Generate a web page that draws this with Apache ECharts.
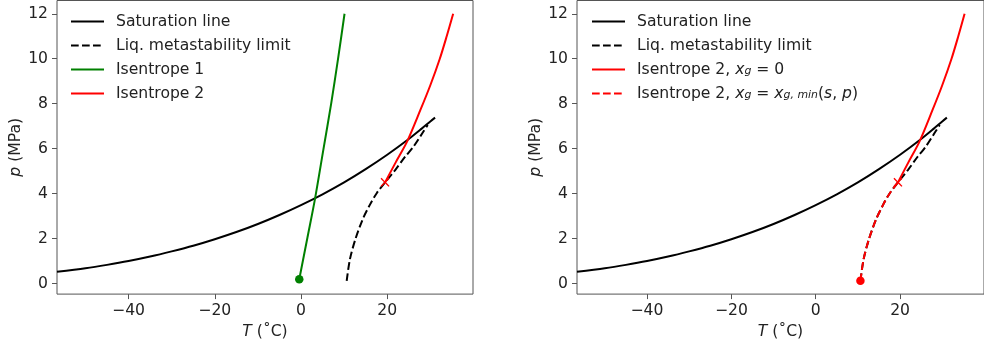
<!DOCTYPE html>
<html>
<head>
<meta charset="utf-8">
<script src="https://cdn.jsdelivr.net/npm/echarts@6/dist/echarts.min.js"></script>
<style>
  html, body { margin: 0; padding: 0; background: #fff; }
  #chart { width: 984px; height: 345px; }
</style>
</head>
<body>
<div id="chart"></div>
<script>
// CO2 saturation line (T in °C, p in MPa), triple point to critical point
const satT = [-56.6, -50, -45, -40, -35, -30, -25, -20, -15, -10, -5, 0, 5, 10, 15, 20, 25, 28, 30, 31.1];
const satP = [0.52, 0.68, 0.83, 1.00, 1.20, 1.43, 1.68, 1.97, 2.29, 2.65, 3.05, 3.49, 3.97, 4.50, 5.09, 5.73, 6.43, 6.89, 7.21, 7.38];

// liquid metastability (spinodal) limit
const spinT = [10.6, 11.35, 12.6, 14.3, 16.0, 17.6, 19.5, 21.9, 24.2, 26.1, 28.4, 29.4];
const spinP = [0.12, 1.08, 1.96, 2.85, 3.51, 4.03, 4.50, 5.06, 5.65, 6.09, 6.76, 7.05];

// isentrope 1
const isen1T = [-0.4, 1.5, 3.26, 5.2, 7.0, 8.6, 10.1];
const isen1P = [0.19, 2.05, 3.78, 5.97, 8.0, 10.0, 12.0];

// isentrope 2, x_g = 0 branch
const isen2T = [19.5, 22.0, 24.6, 27.7, 30.0, 32.2, 33.8, 35.3];
const isen2P = [4.50, 5.40, 6.31, 7.72, 8.82, 10.0, 11.0, 12.0];

// isentrope 2, x_g = x_g,min(s, p) branch
const isen2MetaT = [10.6, 11.35, 12.6, 14.3, 16.0, 17.6, 19.5];
const isen2MetaP = [0.12, 1.08, 1.96, 2.85, 3.51, 4.03, 4.50];

// special points
const isen1Start = [-0.4, 0.19];
const isen2Start = [10.6, 0.12];
const limitPoint = [19.5, 4.5];

// tick values
const xTicks = [-40, -20, 0, 20];
const yTicks = [0, 2, 4, 6, 8, 10, 12];

const pairs = (xs, ys) => xs.map((x, i) => [x, ys[i]]);

const FONT = 'DejaVu Sans';
const FS = 15.6;
const TXT = '#222';
const AX = '#555';
const LW = 2;
const DASH = [7.7, 3.3];

const italic = { fontFamily: FONT, fontSize: FS, fontStyle: 'italic', color: TXT, lineHeight: 15 };
const sub = { fontFamily: FONT, fontSize: 10.9, fontStyle: 'italic', color: TXT, lineHeight: 6, verticalAlign: 'bottom' };
const gap = { width: 7, fontSize: FS, lineHeight: 15 };

const legendLabels = {
  'Isentrope 2, x_g = 0': 'Isentrope 2, {i|x}{s|g} = 0',
  'Isentrope 2, x_g = x_g,min(s, p)': 'Isentrope 2, {i|x}{s|g} = {i|x}{s|g, min}({i|s}, {i|p})'
};

function xAxis(gridIndex) {
  return {
    type: 'value', gridIndex, min: -56.6, max: 39.9,
    name: '{i|T} (˚C)', nameLocation: 'middle', nameGap: 28,
    nameTextStyle: { fontFamily: FONT, fontSize: FS, color: TXT, rich: { i: italic } },
    axisLine: { show: false, onZero: false },
    axisTick: { show: true, inside: false, length: 5, lineStyle: { color: AX, width: 1 }, customValues: xTicks },
    axisLabel: {
      fontFamily: FONT, fontSize: FS, color: TXT, margin: 9, customValues: xTicks,
      formatter: v => (v < 0 ? '\u2212' + (-v) : String(v))
    },
    splitLine: { show: false }
  };
}

function yAxis(gridIndex) {
  return {
    type: 'value', gridIndex, min: -0.47, max: 12.59,
    name: '{i|p} (MPa)', nameLocation: 'middle', nameGap: 32, nameRotate: 90,
    nameTextStyle: { fontFamily: FONT, fontSize: FS, color: TXT, rich: { i: italic } },
    axisLine: { show: false, onZero: false },
    axisTick: { show: true, inside: false, length: 5, lineStyle: { color: AX, width: 1 }, customValues: yTicks },
    axisLabel: { fontFamily: FONT, fontSize: FS, color: TXT, margin: 9, customValues: yTicks },
    splitLine: { show: false }
  };
}

function line(name, idx, data, color, dashed) {
  return {
    type: 'line', name, xAxisIndex: idx, yAxisIndex: idx, data,
    symbol: 'none', smooth: 0.3,
    lineStyle: { color, width: LW, type: dashed ? DASH : 'solid' },
    itemStyle: { color },
    emphasis: { disabled: true }, silent: true, animation: false
  };
}

function marker(idx, point, color, symbol, size) {
  return {
    type: 'scatter', xAxisIndex: idx, yAxisIndex: idx, data: [point],
    symbol, symbolSize: size, itemStyle: { color, opacity: 1 },
    silent: true, animation: false, z: 5
  };
}

// filled "x" shape for the limit point marker
const X_SYMBOL = 'path://M1.1,0L5,3.9L8.9,0L10,1.1L6.1,5L10,8.9L8.9,10L5,6.1L1.1,10L0,8.9L3.9,5L0,1.1Z';

function legend(left, names) {
  return {
    orient: 'vertical', left, top: 13.5, padding: 0,
    itemWidth: 33, itemHeight: 14, itemGap: 8,
    selectedMode: false, data: names,
    itemStyle: { opacity: 0 },
    formatter: n => '{g| }' + (legendLabels[n] || n),
    textStyle: {
      fontFamily: FONT, fontSize: FS, color: TXT, lineHeight: 15,
      rich: { g: gap, i: italic, s: sub }
    }
  };
}

const chart = echarts.init(document.getElementById('chart'), null, { renderer: 'canvas' });
chart.setOption({
  animation: false,
  backgroundColor: '#fff',
  grid: [
    { left: 57, top: 0.5, width: 416, height: 294.5, show: true, borderColor: AX, borderWidth: 1, backgroundColor: 'transparent' },
    { left: 577, top: 0.5, width: 417, height: 294.5, show: true, borderColor: AX, borderWidth: 1, backgroundColor: 'transparent' }
  ],
  xAxis: [xAxis(0), xAxis(1)],
  yAxis: [yAxis(0), yAxis(1)],
  legend: [
    legend(70, ['Saturation line', 'Liq. metastability limit', 'Isentrope 1', 'Isentrope 2']),
    legend(591, ['Saturation line', 'Liq. metastability limit', 'Isentrope 2, x_g = 0', 'Isentrope 2, x_g = x_g,min(s, p)'])
  ],
  series: [
    line('Saturation line', 0, pairs(satT, satP), '#000', false),
    line('Liq. metastability limit', 0, pairs(spinT, spinP), '#000', true),
    line('Isentrope 1', 0, pairs(isen1T, isen1P), '#008000', false),
    line('Isentrope 2', 0, pairs(isen2T, isen2P), '#ff0000', false),
    marker(0, isen1Start, '#008000', 'circle', 8.5),
    marker(0, limitPoint, '#ff0000', X_SYMBOL, 9),

    line('Saturation line', 1, pairs(satT, satP), '#000', false),
    line('Liq. metastability limit', 1, pairs(spinT, spinP), '#000', true),
    line('Isentrope 2, x_g = 0', 1, pairs(isen2T, isen2P), '#ff0000', false),
    line('Isentrope 2, x_g = x_g,min(s, p)', 1, pairs(isen2MetaT, isen2MetaP), '#ff0000', true),
    marker(1, isen2Start, '#ff0000', 'circle', 8.5),
    marker(1, limitPoint, '#ff0000', X_SYMBOL, 9)
  ]
});
</script>
</body>
</html>
